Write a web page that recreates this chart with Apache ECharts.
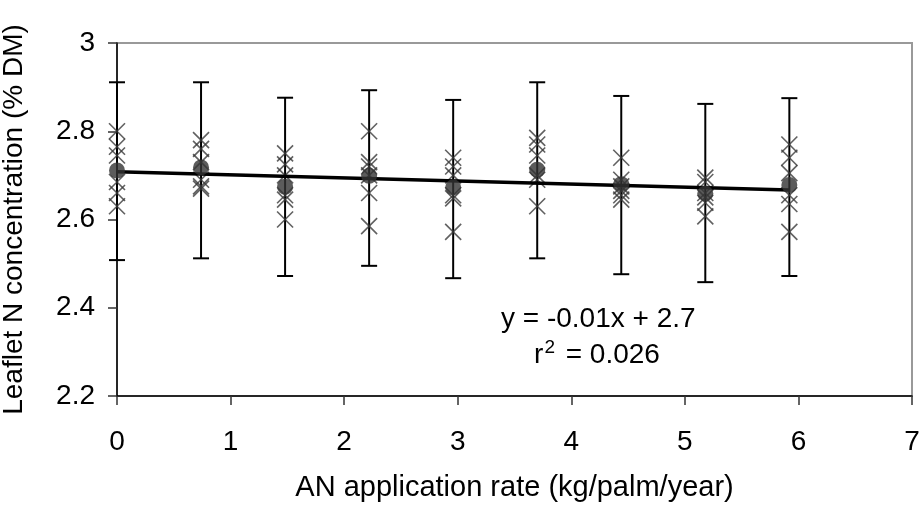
<!DOCTYPE html>
<html>
<head>
<meta charset="utf-8">
<script src="https://cdn.jsdelivr.net/npm/echarts@6/dist/echarts.min.js"></script>
<style>
html,body{margin:0;padding:0;background:#fff;}
#chart{width:921px;height:506px;}
</style>
</head>
<body>
<div id="chart"></div>
<script>
// AN application rates (kg/palm/year)
var rates = [0, 0.74, 1.48, 2.22, 2.96, 3.7, 4.44, 5.18, 5.92];
// Individual replicate values (% DM), six per rate
var replicates = [
  [2.80, 2.765, 2.745, 2.685, 2.66, 2.63],
  [2.78, 2.76, 2.73, 2.69, 2.675, 2.67],
  [2.75, 2.725, 2.70, 2.655, 2.645, 2.60],
  [2.80, 2.73, 2.72, 2.70, 2.66, 2.585],
  [2.74, 2.72, 2.70, 2.655, 2.648, 2.572],
  [2.785, 2.77, 2.745, 2.70, 2.69, 2.63],
  [2.74, 2.69, 2.675, 2.665, 2.655, 2.645],
  [2.695, 2.685, 2.66, 2.65, 2.638, 2.607],
  [2.77, 2.74, 2.705, 2.655, 2.635, 2.572]
];
// Means
var means = [2.711, 2.718, 2.674, 2.699, 2.673, 2.713, 2.680, 2.659, 2.678];
// Error bar limits
var errHigh = [2.911, 2.911, 2.876, 2.893, 2.871, 2.911, 2.880, 2.862, 2.875];
var errLow = [2.508, 2.512, 2.472, 2.495, 2.467, 2.512, 2.476, 2.458, 2.472];
// Regression line end points
var fitX = [0, 5.92];
var fitY = [2.708, 2.667];
// Axis ticks
var xTicks = [0, 1, 2, 3, 4, 5, 6, 7];
var yTicks = [2.2, 2.4, 2.6, 2.8, 3];
var eqText = 'y = -0.01x + 2.7';
var r2Text = '0.026';

var FONT = 'Liberation Sans, Arial, sans-serif';

var repData = [];
rates.forEach(function (x, i) {
  replicates[i].forEach(function (v) { repData.push([x, v]); });
});
var errData = rates.map(function (x, i) { return [x, errLow[i], errHigh[i]]; });
var meanData = rates.map(function (x, i) { return [x, means[i]]; });
var fitData = fitX.map(function (x, i) { return [x, fitY[i]]; });

var chart = echarts.init(document.getElementById('chart'), null, {renderer: 'canvas'});
chart.setOption({
  animation: false,
  backgroundColor: '#fff',
  grid: {left: 117, right: 9, top: 43, bottom: 110, containLabel: false, outerBoundsMode: 'none',
         show: true, borderColor: '#999', borderWidth: 2, backgroundColor: 'transparent'},
  xAxis: {
    type: 'value', min: xTicks[0], max: xTicks[xTicks.length - 1], interval: 1,
    name: 'AN application rate (kg/palm/year)', nameLocation: 'middle', nameGap: 77,
    nameTextStyle: {fontFamily: FONT, fontSize: 29, color: '#000'},
    axisLine: {lineStyle: {color: '#000', width: 1.5}},
    axisTick: {show: true, inside: false, length: 9, lineStyle: {color: '#333', width: 1.5}},
    axisLabel: {fontFamily: FONT, fontSize: 28, color: '#000', margin: 32},
    splitLine: {show: false}
  },
  yAxis: {
    type: 'value', min: yTicks[0], max: yTicks[yTicks.length - 1], interval: 0.2,
    name: 'Leaflet N concentration (% DM)', nameLocation: 'middle', nameGap: 89,
    nameTextStyle: {fontFamily: FONT, fontSize: 28, color: '#000'},
    axisLine: {lineStyle: {color: '#000', width: 1.5}},
    axisTick: {show: true, inside: false, length: 9, lineStyle: {color: '#333', width: 1.5}},
    axisLabel: {fontFamily: FONT, fontSize: 28, color: '#000', margin: 22},
    splitLine: {show: false}
  },
  series: [
    {
      type: 'custom',
      data: errData,
      z: 3,
      renderItem: function (params, api) {
        var x = api.value(0);
        var lo = api.coord([x, api.value(1)]);
        var hi = api.coord([x, api.value(2)]);
        var hw = 8;
        var st = {stroke: '#000', lineWidth: 2};
        return {
          type: 'group',
          children: [
            {type: 'line', shape: {x1: lo[0], y1: lo[1], x2: hi[0], y2: hi[1]}, style: st},
            {type: 'line', shape: {x1: lo[0] - hw, y1: lo[1], x2: lo[0] + hw, y2: lo[1]}, style: st},
            {type: 'line', shape: {x1: hi[0] - hw, y1: hi[1], x2: hi[0] + hw, y2: hi[1]}, style: st}
          ]
        };
      }
    },
    {
      type: 'scatter',
      data: repData,
      z: 4,
      symbol: 'path://M0,0L10,10M10,0L0,10',
      symbolSize: 16,
      itemStyle: {color: 'none', borderColor: '#3a3a3a', borderWidth: 1.6}
    },
    {
      type: 'line',
      data: fitData,
      z: 5,
      showSymbol: false,
      symbol: 'none',
      lineStyle: {color: '#000', width: 3.5}
    },
    {
      type: 'scatter',
      data: meanData,
      z: 6,
      symbol: 'circle',
      symbolSize: 16,
      itemStyle: {color: '#333'}
    }
  ],
  graphic: [
    {
      type: 'text', left: 601 - 100, top: 305, z: 10,
      style: {text: eqText, fontFamily: FONT, fontSize: 28, fill: '#000', width: 200, align: 'center'}
    },
    {
      type: 'text', x: 597, y: 355, z: 10,
      style: {
        text: '{a|r}{s|2}{a| = ' + r2Text + '}',
        align: 'center', verticalAlign: 'middle',
        rich: {
          a: {fontFamily: FONT, fontSize: 28, fill: '#000', lineHeight: 34},
          s: {fontFamily: FONT, fontSize: 19, fill: '#000', verticalAlign: 'top', lineHeight: 19, padding: [0, 3, 0, 1]}
        }
      }
    }
  ]
});
</script>
</body>
</html>
